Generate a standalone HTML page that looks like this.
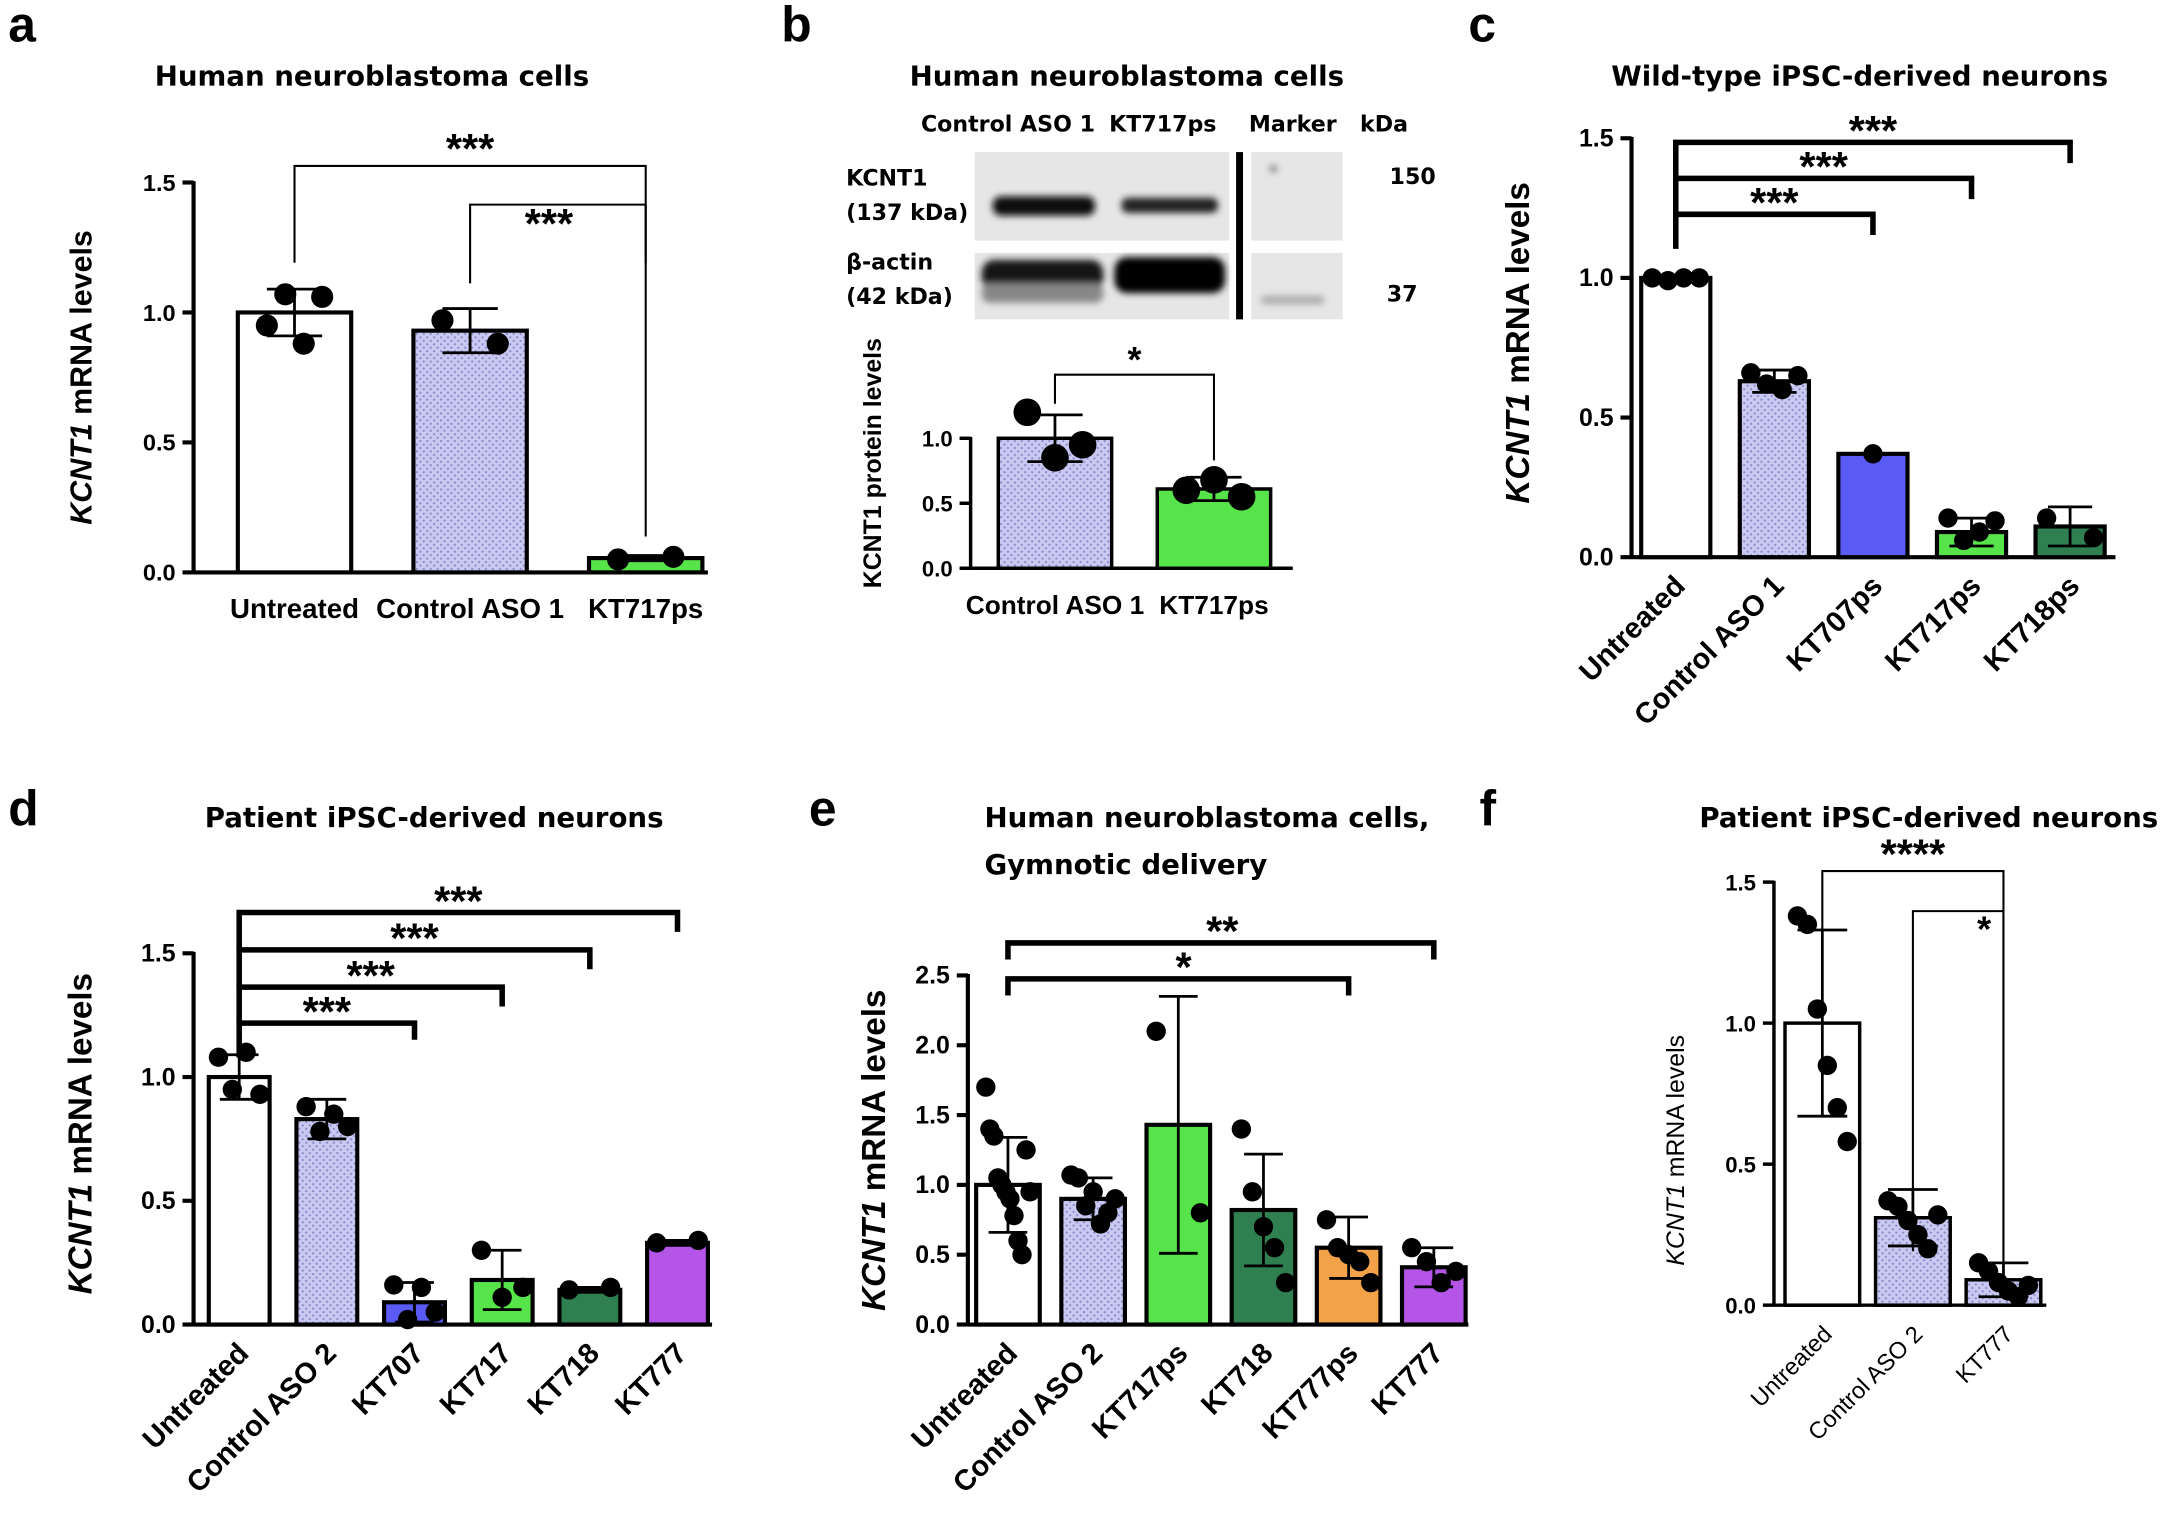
<!DOCTYPE html>
<html><head><meta charset="utf-8">
<style>
html,body{margin:0;padding:0;background:#fff;}
svg{display:block;font-family:"Liberation Sans",sans-serif;}
.ttl{font-family:"DejaVu Sans","Liberation Sans",sans-serif;font-weight:bold;font-size:20px;}
</style></head>
<body>
<svg id="fig" width="2168" height="1525" viewBox="0 0 1568 1103" preserveAspectRatio="none" xmlns="http://www.w3.org/2000/svg">
<defs>
<pattern id="dots" width="5" height="5" patternUnits="userSpaceOnUse">
<rect width="5" height="5" fill="#c9c9f2"/><circle cx="1.5" cy="1.5" r="0.8" fill="#8a8ac8"/><circle cx="4" cy="4" r="0.8" fill="#8a8ac8"/>
</pattern>
<filter id="blur"><feGaussianBlur stdDeviation="2.5"/></filter>
</defs>
<g font-family="Liberation Sans, sans-serif" font-weight="bold" font-size="36">
<text x="6" y="30">a</text><text x="565" y="30">b</text><text x="1062" y="30">c</text>
<text x="6" y="597">d</text><text x="585" y="597">e</text><text x="1070" y="597">f</text>
</g>
<g class="ttl" text-anchor="middle">
<text x="269" y="62">Human neuroblastoma cells</text>
<text x="815" y="62">Human neuroblastoma cells</text>
<text x="1345" y="62">Wild-type iPSC-derived neurons</text>
<text x="314" y="598">Patient iPSC-derived neurons</text>
<text x="712" y="598" text-anchor="start">Human neuroblastoma cells,</text>
<text x="712" y="632" text-anchor="start">Gymnotic delivery</text>
<text x="1395" y="598">Patient iPSC-derived neurons</text>
</g>
<g id="blot" font-weight="bold" font-size="16" font-family="DejaVu Sans, Liberation Sans, sans-serif">
<text x="729" y="95" text-anchor="middle">Control ASO 1</text>
<text x="841" y="95" text-anchor="middle">KT717ps</text>
<text x="935" y="95" text-anchor="middle">Marker</text>
<text x="1001" y="95" text-anchor="middle">kDa</text>
<text x="612" y="134">KCNT1</text><text x="612" y="159">(137 kDa)</text>
<text x="612" y="195">β-actin</text><text x="612" y="220">(42 kDa)</text>
<text x="1005" y="133">150</text><text x="1003" y="218">37</text>
<rect x="705" y="110" width="184" height="64" fill="#e6e6e6"/>
<rect x="705" y="183" width="184" height="48" fill="#e6e6e6"/>
<rect x="905" y="110" width="66" height="64" fill="#e6e6e6"/>
<rect x="905" y="183" width="66" height="48" fill="#e6e6e6"/>
<rect x="894" y="110" width="5" height="121" fill="#000"/>
<g filter="url(#blur)">
<rect x="718" y="142" width="74" height="14" rx="6" fill="#111"/>
<rect x="811" y="143" width="70" height="11" rx="5" fill="#222"/>
<rect x="710" y="188" width="88" height="22" rx="9" fill="#151515"/>
<rect x="710" y="205" width="88" height="14" rx="6" fill="#888"/>
<rect x="806" y="186" width="80" height="26" rx="9" fill="#000"/>
<rect x="912" y="214" width="46" height="6" rx="3" fill="#aaa"/>
<circle cx="921" cy="122" r="2" fill="#333"/>
</g>
</g>
<g id="charts"></g>
</svg>
<script>
// Panel a
const aCats=['Untreated','Control ASO 1','KT717ps'];
const aMeans=[1.0,0.93,0.055];
const aErr=[0.09,0.085,0.01];
const aPts=[[0.95,1.07,0.88,1.06],[0.97,0.88],[0.05,0.06]];
const aTicks=[0,0.5,1.0,1.5];
// Panel b
const bCats=['Control ASO 1','KT717ps'];
const bMeans=[1.0,0.61];
const bErr=[0.18,0.09];
const bPts=[[1.2,0.85,0.95],[0.6,0.68,0.55]];
const bTicks=[0,0.5,1.0];
// Panel c
const cCats=['Untreated','Control ASO 1','KT707ps','KT717ps','KT718ps'];
const cMeans=[1.0,0.63,0.37,0.09,0.11];
const cErr=[0.01,0.04,0,0.05,0.07];
const cPts=[[1.0,0.99,1.0,1.0],[0.66,0.62,0.6,0.65],[0.37],[0.14,0.06,0.09,0.13],[0.14,0.07]];
const cTicks=[0,0.5,1.0,1.5];
// Panel d
const dCats=['Untreated','Control ASO 2','KT707','KT717','KT718','KT777'];
const dMeans=[1.0,0.83,0.09,0.18,0.14,0.33];
const dErr=[0.09,0.08,0.08,0.12,0.01,0.01];
const dPts=[[1.08,0.95,1.1,0.93],[0.88,0.78,0.85,0.8],[0.16,0.02,0.15,0.05],[0.3,0.11,0.15],[0.14,0.15],[0.33,0.34]];
const dTicks=[0,0.5,1.0,1.5];
// Panel e
const eCats=['Untreated','Control ASO 2','KT717ps','KT718','KT777ps','KT777'];
const eMeans=[1.0,0.9,1.43,0.82,0.55,0.41];
const eErr=[0.34,0.15,0.92,0.4,0.22,0.14];
const ePts=[[1.7,1.4,1.35,1.05,1.0,0.95,0.9,0.78,0.6,0.5,1.25,0.95],[1.07,1.05,0.85,0.95,0.72,0.8,0.9],[2.1,0.8],[1.4,0.95,0.7,0.55,0.3],[0.75,0.55,0.5,0.45,0.3],[0.55,0.45,0.3,0.38]];
const eTicks=[0,0.5,1.0,1.5,2.0,2.5];
// Panel f
const fCats=['Untreated','Control ASO 2','KT777'];
const fMeans=[1.0,0.31,0.09];
const fErr=[0.33,0.1,0.06];
const fPts=[[1.38,1.35,1.05,0.85,0.7,0.58],[0.37,0.35,0.3,0.25,0.2,0.32],[0.15,0.12,0.08,0.05,0.03,0.07]];
const fTicks=[0,0.5,1.0,1.5];

const NS='http://www.w3.org/2000/svg';
const root=document.getElementById('charts');
function mk(tag,attrs,parent){const e=document.createElementNS(NS,tag);for(const k in attrs)e.setAttribute(k,attrs[k]);(parent||root).appendChild(e);return e;}
const COL={w:'#ffffff',l:'url(#dots)',b:'#5a5af5',g:'#57e34a',dg:'#2f7f50',p:'#b455e8',o:'#f3a24a'};

function drawPanel(o){
  const g=mk('g',{});
  
  
  const yS=v=>o.y0-v*o.ppu;
  const xS=i=>o.x0+i*o.step;
  const top=o.ticks[o.ticks.length-1];
  const ax=mk('g',{},g);
  
  
  mk('line',{x1:o.ax,x2:o.ax,y1:yS(top)-1,y2:o.y0+1,stroke:'#000','stroke-width':o.lw},ax);
  o.ticks.forEach(t=>{
    mk('line',{x1:o.ax-8,x2:o.ax,y1:yS(t),y2:yS(t),stroke:'#000','stroke-width':o.lw},ax);
    const tx=mk('text',{x:o.ax-13,y:yS(t)+6,'text-anchor':'end','font-size':o.tfs,'font-weight':'bold'},ax);
    tx.textContent=t.toFixed(1);
    
    
  });
  const xa=mk('line',{x1:o.ax,x2:o.axEnd,y1:o.y0,y2:o.y0,stroke:'#000','stroke-width':o.lw},g);
  
  
  const yt=mk('text',{transform:`translate(${o.ytx},${o.yty}) rotate(-90)`,'text-anchor':'middle','font-size':o.yfs,'font-weight':o.ybold?'bold':'normal'},g);
  
  
  const it=mk('tspan',{'font-style':'italic'},yt);it.textContent=o.ylabel;
  const rest=mk('tspan',{},yt);rest.textContent=o.yrest;
  o.cats.forEach((c,i)=>{
    const cx=xS(i),m=o.means[i],hw=o.bw/2;
    const bar=mk('rect',{x:cx-hw,y:yS(m),width:o.bw,height:o.y0-yS(m),fill:COL[o.cols[i]],stroke:'#000','stroke-width':o.lw},g);
    
    
    const e=o.err[i];
    const eb=mk('path',{d:`M${cx},${yS(m-e)}V${yS(m+e)}M${cx-o.cap},${yS(m+e)}H${cx+o.cap}M${cx-o.cap},${yS(m-e)}H${cx+o.cap}`,stroke:'#000','stroke-width':2,fill:'none'},g);
    
    
    const pts=o.pts[i],n=pts.length;
    pts.forEach((v,j)=>{
      const dx=n>1?(j/(n-1)-0.5)*o.spread:0;
      const pt=mk('circle',{cx:cx+dx,cy:yS(v),r:o.r,fill:'#000'},g);
      
      
    });
    let lab;
    if(o.rot){
      lab=mk('text',{transform:`translate(${cx+8},${o.y0+22}) rotate(-45)`,'text-anchor':'end','font-size':o.xfs,'font-weight':o.xbold===false?'normal':'bold'},g);
    } else {
      lab=mk('text',{x:cx,y:o.y0+33,'text-anchor':'middle','font-size':o.xfs,'font-weight':'bold'},g);
    }
    lab.textContent=c;
    
    
  });
  (o.sig||[]).forEach(s=>{
    const x1=xS(s.a),x2=xS(s.b);
    const br=mk('path',{d:`M${x1},${s.ya}V${s.y}H${x2}V${s.yb}`,stroke:'#000','stroke-width':s.w,fill:'none'},g);
    
    
    const st=mk('text',{x:s.tx!==undefined?s.tx:(x1+x2)/2,y:s.y+(s.dy||2),'text-anchor':'middle','font-size':s.fs||30,'font-weight':'bold'},g);
    st.textContent=s.t;
    
    
  });
}

drawPanel({name:'panel-a',cats:aCats,means:aMeans,err:aErr,pts:aPts,ticks:aTicks,cols:['w','l','g'],
 ax:140,axEnd:512,y0:414,ppu:188,x0:213,step:127,bw:82,cap:20,r:8,spread:40,lw:3,tfs:17,xfs:20,
 ytx:66,yty:273,yfs:22,ybold:true,ylabel:'KCNT1',yrest:' mRNA levels',
 sig:[{a:0,b:2,y:120,ya:190,yb:190,w:1.5,t:'***',dy:-2},{a:1,b:2,y:148,ya:205,yb:388,w:1.5,t:'***',tx:397,dy:24}]});
drawPanel({name:'panel-b',cats:bCats,means:bMeans,err:bErr,pts:bPts,ticks:bTicks,cols:['l','g'],
 ax:702,axEnd:935,y0:411,ppu:94,x0:763,step:115,bw:82,cap:20,r:10,spread:40,lw:2.5,tfs:16,xfs:19,
 ytx:637,yty:335,yfs:18,ybold:true,ylabel:'',yrest:'KCNT1 protein levels',
 sig:[{a:0,b:1,y:271,ya:292,yb:333,w:1.5,t:'*',fs:26,dy:-2}]});
drawPanel({name:'panel-c',cats:cCats,means:cMeans,err:cErr,pts:cPts,ticks:cTicks,cols:['w','l','b','g','dg'],
 ax:1180,axEnd:1530,y0:403,ppu:202,x0:1212,step:71.3,bw:50,cap:16,r:7,spread:34,lw:3,tfs:18,xfs:21,rot:true,
 ytx:1106,yty:248,yfs:24,ybold:true,ylabel:'KCNT1',yrest:' mRNA levels',
 sig:[{a:0,b:2,y:155,ya:180,yb:170,w:4,t:'***'},{a:0,b:3,y:129,ya:155,yb:144,w:4,t:'***'},{a:0,b:4,y:103,ya:129,yb:118,w:4,t:'***'}]});
drawPanel({name:'panel-d',cats:dCats,means:dMeans,err:dErr,pts:dPts,ticks:dTicks,cols:['w','l','b','g','dg','p'],
 ax:140,axEnd:515,y0:958,ppu:179,x0:173,step:63.4,bw:44,cap:14,r:7,spread:30,lw:3,tfs:18,xfs:21,rot:true,
 ytx:66,yty:820,yfs:24,ybold:true,ylabel:'KCNT1',yrest:' mRNA levels',
 sig:[{a:0,b:2,y:740,ya:765,yb:752,w:4,t:'***'},{a:0,b:3,y:714,ya:740,yb:728,w:4,t:'***'},{a:0,b:4,y:687,ya:714,yb:701,w:4,t:'***'},{a:0,b:5,y:660,ya:687,yb:674,w:4,t:'***'}]});
drawPanel({name:'panel-e',cats:eCats,means:eMeans,err:eErr,pts:ePts,ticks:eTicks,cols:['w','l','g','dg','o','p'],
 ax:700,axEnd:1062,y0:958,ppu:101,x0:729,step:61.6,bw:46,cap:14,r:7,spread:32,lw:3,tfs:18,xfs:21,rot:true,
 ytx:640,yty:832,yfs:24,ybold:true,ylabel:'KCNT1',yrest:' mRNA levels',
 sig:[{a:0,b:4,y:708,ya:720,yb:720,w:4,t:'*',tx:856},{a:0,b:5,y:682,ya:694,yb:694,w:4,t:'**',tx:884}]});
drawPanel({name:'panel-f',cats:fCats,means:fMeans,err:fErr,pts:fPts,ticks:fTicks,cols:['w','l','l'],
 ax:1283,axEnd:1480,y0:944,ppu:204,x0:1318,step:65.5,bw:54,cap:18,r:7,spread:36,lw:2.5,tfs:16,xfs:17,rot:true,xbold:false,
 ytx:1218,yty:832,yfs:18,ybold:false,ylabel:'KCNT1',yrest:' mRNA levels',
 sig:[{a:0,b:2,y:630,ya:680,yb:910,w:1.5,t:'****',dy:-2},{a:1,b:2,y:659,ya:905,yb:920,w:1.5,t:'*',tx:1435,dy:22,fs:26}]});
</script>
</body></html>
